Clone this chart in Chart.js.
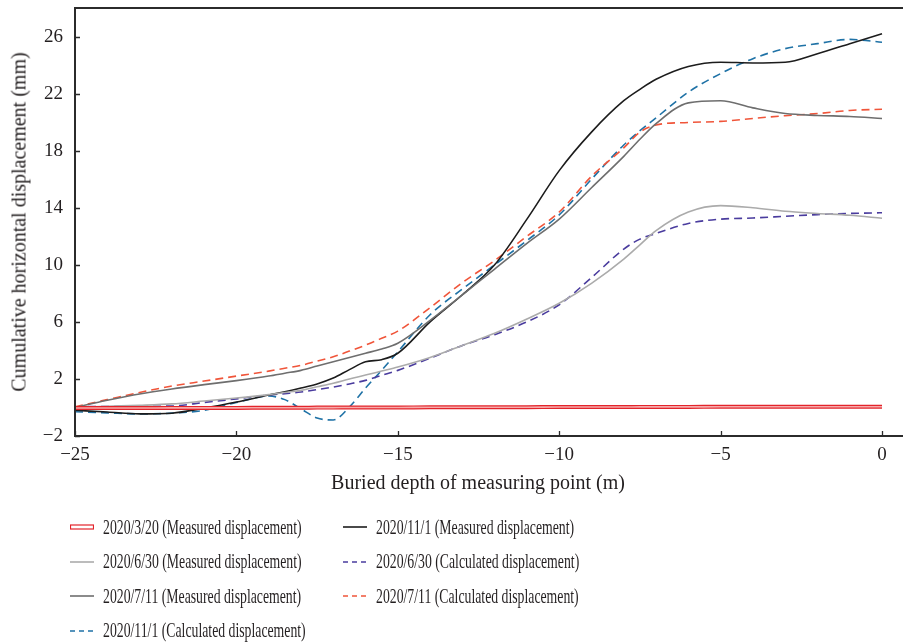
<!DOCTYPE html>
<html>
<head>
<meta charset="utf-8">
<script src="https://cdn.jsdelivr.net/npm/chart.js@4.4.0/dist/chart.umd.min.js"></script>
<style>
  html, body { margin: 0; padding: 0; background: #fff; }
  #wrap { position: relative; width: 903px; height: 643px; font-family: "Liberation Serif", serif; color: #231f20; overflow: hidden; }
  #chart { position: absolute; left: 0; top: 0; }
  .ytitle { position: absolute; left: 19px; top: 222px; transform: translate(-50%, -50%) rotate(-90deg); white-space: nowrap; font-size: 20px; }
  .xtitle { position: absolute; left: 478px; top: 482px; transform: translate(-50%, -50%); white-space: nowrap; font-size: 20px; }
  .item { position: absolute; height: 34px; display: flex; align-items: center; white-space: nowrap; }
  .item svg { width: 24px; height: 10px; margin-right: 9px; flex: none; }
  .item span { font-size: 21px; display: inline-block; transform-origin: left center; transform: scaleX(0.655); }
</style>
</head>
<body>
<div id="wrap">
  <canvas id="chart" width="903" height="643"></canvas>
  <div class="ytitle">Cumulative horizontal displacement (mm)</div>
  <div class="xtitle">Buried depth of measuring point (m)</div>
  <div id="legend"></div>
</div>
<script>
// depth of measuring point (m)
const depth = [-25, -24, -23, -22, -21, -20, -19, -18.5, -18, -17.5, -17, -16.5, -16, -15.5, -15,
               -14, -13, -12, -11, -10, -9, -8, -7.5, -7, -6, -5, -4, -3, -2, -1, 0];

// cumulative horizontal displacement (mm)
const measured0320 = [-0.04, -0.04, -0.04, -0.03, -0.03, -0.03, -0.02, -0.02, -0.02, -0.01, -0.01, 0, 0, 0, 0,
                      0.01, 0.01, 0.02, 0.02, 0.03, 0.03, 0.03, 0.04, 0.04, 0.04, 0.05, 0.05, 0.05, 0.05, 0.05, 0.05];
const measured0630 = [0, 0.08, 0.15, 0.25, 0.45, 0.66, 0.9, 1.05, 1.2, 1.45, 1.7, 2.0, 2.27, 2.55, 2.83,
                      3.5, 4.35, 5.2, 6.2, 7.3, 8.7, 10.4, 11.4, 12.4, 13.7, 14.15, 14.0, 13.75, 13.6, 13.47, 13.26];
const measured0711 = [0, 0.5, 0.95, 1.3, 1.6, 1.88, 2.2, 2.4, 2.6, 2.9, 3.2, 3.5, 3.8, 4.1, 4.5,
                      6.1, 7.9, 9.7, 11.5, 13.2, 15.4, 17.6, 18.8, 19.9, 21.35, 21.5, 21.0, 20.6, 20.47, 20.4, 20.26];
const measured1101 = [-0.2, -0.32, -0.45, -0.4, -0.05, 0.38, 0.87, 1.1, 1.36, 1.65, 2.06, 2.65, 3.2, 3.35, 3.8,
                      6.0, 7.9, 10.0, 13.2, 16.6, 19.3, 21.5, 22.3, 23.0, 23.9, 24.2, 24.15, 24.2, 24.8, 25.5, 26.2];
const calc0630 = [0.05, 0.07, 0.08, 0.1, 0.35, 0.6, 0.87, 0.97, 1.08, 1.25, 1.43, 1.65, 1.9, 2.25, 2.6,
                  3.45, 4.35, 5.1, 6.0, 7.2, 9.1, 11.1, 11.8, 12.2, 12.9, 13.2, 13.28, 13.4, 13.52, 13.6, 13.65];
const calc0711 = [0.05, 0.55, 1.05, 1.5, 1.85, 2.2, 2.55, 2.75, 2.95, 3.25, 3.55, 3.95, 4.37, 4.85, 5.35,
                  7.0, 8.75, 10.3, 12.0, 13.7, 16.2, 18.2, 19.3, 19.8, 19.98, 20.05, 20.26, 20.45, 20.6, 20.82, 20.9];
const calc1101 = [-0.3, -0.38, -0.45, -0.4, -0.2, 0.35, 0.8, 0.55, -0.1, -0.74, -0.88, 0.03, 1.36, 2.6, 3.9,
                  6.5, 8.3, 10.0, 11.7, 13.5, 16.0, 18.4, 19.4, 20.3, 22.1, 23.4, 24.45, 25.15, 25.5, 25.8, 25.6];

const xTicks = [-25, -20, -15, -10, -5, 0];
const yTicks = [-2, 2, 6, 10, 14, 18, 22, 26];

const pts = arr => arr.map((v, i) => ({ x: depth[i], y: v }));

function line(label, data, color, width, dash) {
    return {
        label: label,
        data: pts(data),
        borderColor: color,
        borderWidth: width,
        borderDash: dash || [],
        pointRadius: 0,
        fill: false,
        cubicInterpolationMode: 'monotone'
    };
}

// first dataset ends up on top
const series = [
    line('2020/3/20 inner', measured0320, '#f6a9a9', 1.6),
    line('2020/3/20 (Measured displacement)', measured0320, '#e3242b', 4),
    line('2020/6/30 (Measured displacement)', measured0630, '#ababab', 1.6),
    line('2020/7/11 (Measured displacement)', measured0711, '#6e6e6e', 1.6),
    line('2020/11/1 (Measured displacement)', measured1101, '#1c1c1c', 1.6),
    line('2020/6/30 (Calculated displacement)', calc0630, '#4a3c9e', 1.6, [8, 5]),
    line('2020/7/11 (Calculated displacement)', calc0711, '#f0553a', 1.6, [8, 5]),
    line('2020/11/1 (Calculated displacement)', calc1101, '#1f72a6', 1.6, [8, 5])
];

// axis box with inward tick marks
const frame = {
    id: 'frame',
    afterDraw(chart) {
        const { ctx, chartArea: a, scales: { x, y } } = chart;
        ctx.save();
        ctx.strokeStyle = '#2b2b2b';
        ctx.lineWidth = 2;
        ctx.beginPath();
        ctx.moveTo(chart.width, a.top);
        ctx.lineTo(a.left, a.top);
        ctx.lineTo(a.left, a.bottom);
        ctx.lineTo(chart.width, a.bottom);
        ctx.stroke();
        ctx.lineWidth = 1.3;
        ctx.beginPath();
        xTicks.forEach(v => {
            const px = Math.round(x.getPixelForValue(v)) + 0.5;
            ctx.moveTo(px, a.bottom);
            ctx.lineTo(px, a.bottom - 5);
        });
        yTicks.forEach(v => {
            const py = Math.round(y.getPixelForValue(v)) + 0.5;
            ctx.moveTo(a.left, py);
            ctx.lineTo(a.left + 5, py);
        });
        ctx.stroke();
        ctx.restore();
    }
};

const fmt = v => (v < 0 ? '\u2212' + Math.abs(v) : String(v));

new Chart(document.getElementById('chart').getContext('2d'), {
    type: 'line',
    data: { datasets: series },
    options: {
        responsive: false,
        animation: false,
        layout: { padding: { top: 8, right: 0, left: 0, bottom: 167 } },
        plugins: { legend: { display: false }, tooltip: { enabled: false } },
        scales: {
            x: {
                type: 'linear',
                min: -25,
                max: 0.65,
                grid: { display: false, drawTicks: false },
                border: { display: false },
                afterBuildTicks: s => { s.ticks = xTicks.map(v => ({ value: v })); },
                afterFit: s => { s.height = 40; s.paddingLeft = 0; s.paddingRight = 0; },
                ticks: {
                    padding: 8,
                    maxRotation: 0,
                    color: '#231f20',
                    font: { family: 'Liberation Serif', size: 19 },
                    callback: fmt
                }
            },
            y: {
                min: -2,
                max: 28,
                grid: { display: false, drawTicks: false },
                border: { display: false },
                afterBuildTicks: s => { s.ticks = yTicks.map(v => ({ value: v })); },
                afterFit: s => { s.width = 75; s.paddingTop = 0; s.paddingBottom = 0; },
                ticks: {
                    padding: 12,
                    color: '#231f20',
                    font: { family: 'Liberation Serif', size: 19 },
                    callback: fmt
                }
            }
        }
    },
    plugins: [frame]
});

// legend, two columns like the figure
const legendItems = [
    { col: 0, row: 0, label: '2020/3/20 (Measured displacement)', kind: 'double', color: '#e3242b' },
    { col: 0, row: 1, label: '2020/6/30 (Measured displacement)', kind: 'solid', color: '#ababab' },
    { col: 0, row: 2, label: '2020/7/11 (Measured displacement)', kind: 'solid', color: '#6e6e6e' },
    { col: 0, row: 3, label: '2020/11/1 (Calculated displacement)', kind: 'dash', color: '#1f72a6' },
    { col: 1, row: 0, label: '2020/11/1 (Measured displacement)', kind: 'solid', color: '#1c1c1c' },
    { col: 1, row: 1, label: '2020/6/30 (Calculated displacement)', kind: 'dash', color: '#4a3c9e' },
    { col: 1, row: 2, label: '2020/7/11 (Calculated displacement)', kind: 'dash', color: '#f0553a' }
];

const legend = document.getElementById('legend');
legendItems.forEach(it => {
    const d = document.createElement('div');
    d.className = 'item';
    d.style.left = (70 + it.col * 273) + 'px';
    d.style.top = (510 + it.row * 34.5) + 'px';
    let svg;
    if (it.kind === 'double') {
        svg = '<svg viewBox="0 0 24 10"><rect x="0.5" y="3" width="23" height="4" fill="#fff" stroke="' + it.color + '" stroke-width="1.2"/></svg>';
    } else if (it.kind === 'dash') {
        svg = '<svg viewBox="0 0 24 10"><line x1="0" y1="5" x2="24" y2="5" stroke="' + it.color + '" stroke-width="1.6" stroke-dasharray="5 4"/></svg>';
    } else {
        svg = '<svg viewBox="0 0 24 10"><line x1="0" y1="5" x2="24" y2="5" stroke="' + it.color + '" stroke-width="1.6"/></svg>';
    }
    d.innerHTML = svg + '<span>' + it.label + '</span>';
    legend.appendChild(d);
});
</script>
</body>
</html>
